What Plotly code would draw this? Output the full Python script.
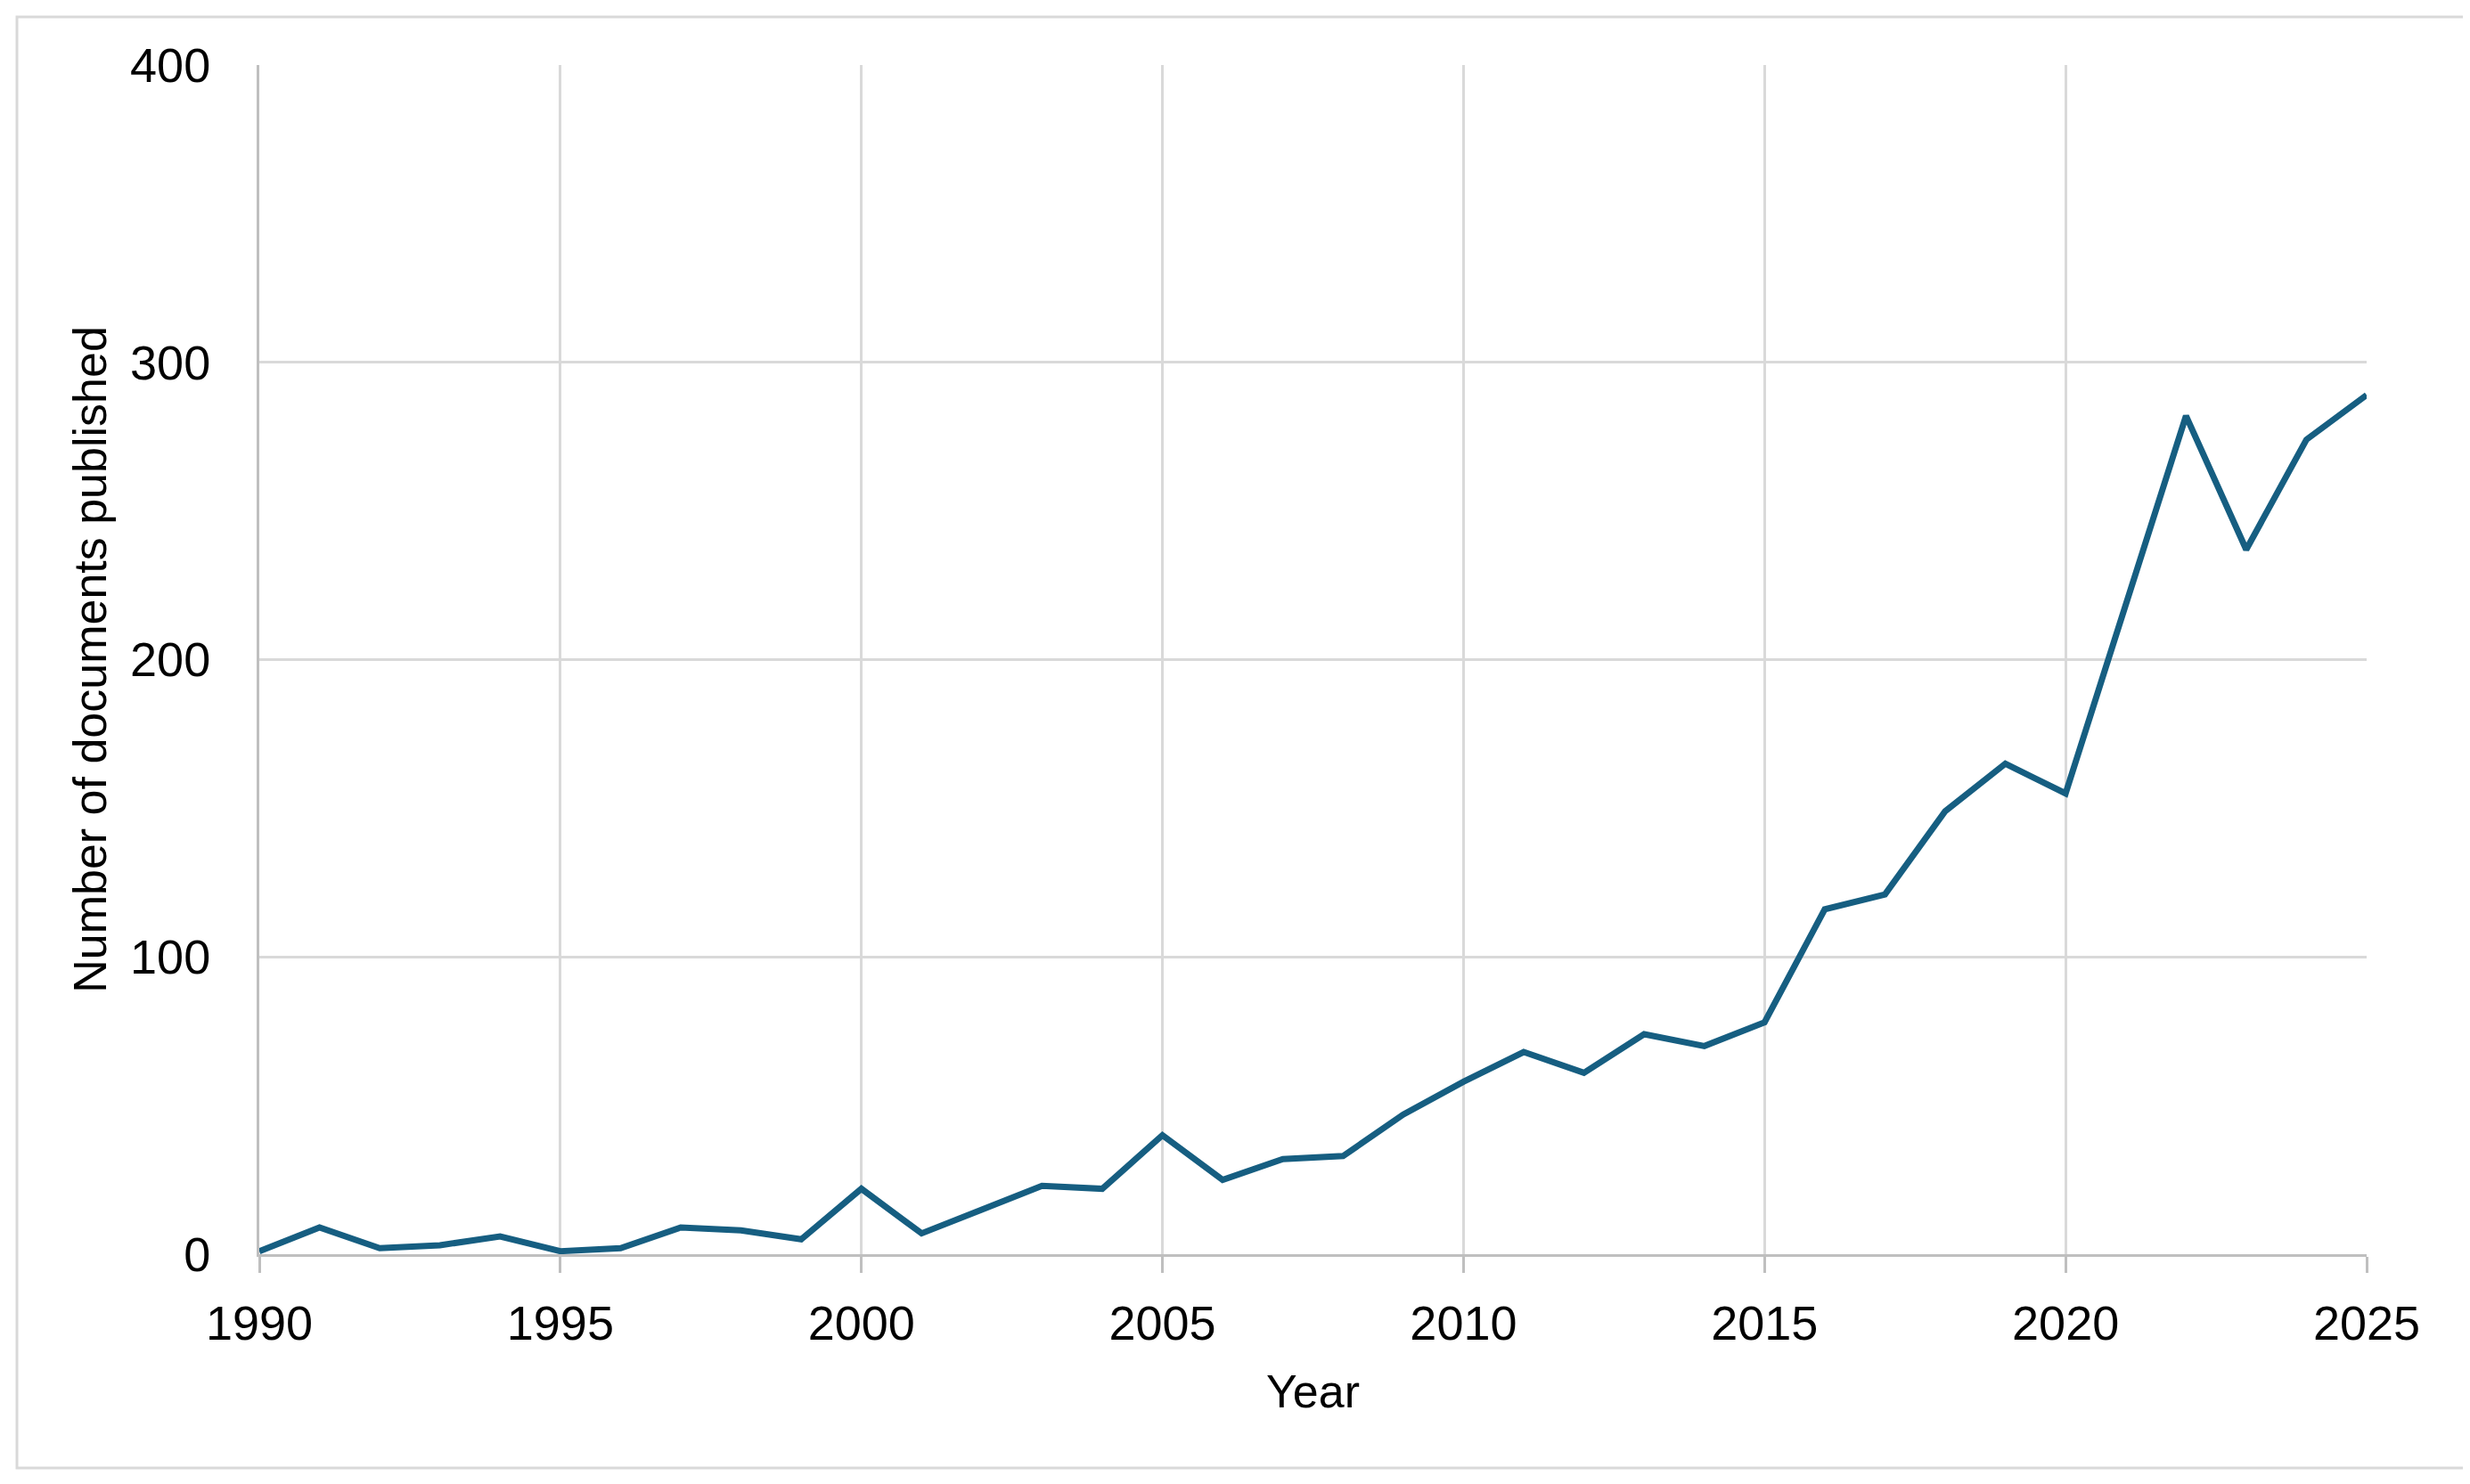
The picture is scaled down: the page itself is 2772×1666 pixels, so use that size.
import plotly.graph_objects as go

# documents published per year
years = list(range(1990, 2026))
documents = [
    1, 9, 2, 3, 6, 1, 2, 9, 8, 5,
    22, 7, 15, 23, 22, 40, 25, 32, 33, 47,
    58, 68, 61, 74, 70, 78, 116, 121, 149, 165,
    155, 218, 282, 237, 274, 289,
]
x_ticks = [1990, 1995, 2000, 2005, 2010, 2015, 2020, 2025]
y_ticks = [0, 100, 200, 300, 400]

W, H = 2772, 1666
L, R, T, B = 283, 2648, 65, 1400

line_col = "#165e81"
grid_col = "#d9d9d9"
axis_col = "#bfbfbf"
font = "Liberation Sans, Arial, sans-serif"

fig = go.Figure()
fig.add_trace(go.Scatter(
    x=years, y=documents, mode="lines",
    line=dict(color=line_col, width=7),
    cliponaxis=False, showlegend=False,
))


def px_x(p):
    return (p - L) / (R - L)


def px_y(p):
    return (B - p) / (B - T)


# light frame round the whole chart
fig.add_shape(type="rect", xref="paper", yref="paper",
              x0=px_x(11), x1=px_x(2763), y0=px_y(1640), y1=px_y(11),
              line=dict(color="#d9d9d9", width=3), layer="below")

fig.update_layout(
    width=W, height=H,
    margin=dict(l=L, r=W - R, t=T, b=H - B),
    paper_bgcolor="white", plot_bgcolor="white",
    font=dict(family=font, size=54, color="black"),
)
fig.update_xaxes(
    range=[1990, 2025], tickvals=x_ticks,
    showgrid=True, gridcolor=grid_col, gridwidth=3,
    showline=True, linecolor=axis_col, linewidth=3,
    ticks="outside", ticklen=18, tickwidth=3, tickcolor=axis_col,
    ticklabelstandoff=10, zeroline=False,
    title=dict(text="Year", font=dict(size=52), standoff=30),
)
fig.update_yaxes(
    range=[0, 400], tickvals=y_ticks,
    showgrid=True, gridcolor=grid_col, gridwidth=3,
    showline=True, linecolor=axis_col, linewidth=3,
    ticks="", ticklabelstandoff=41, zeroline=False,
    title=dict(text="Number of documents published", font=dict(size=52), standoff=10),
)

fig.write_html("out.html")
